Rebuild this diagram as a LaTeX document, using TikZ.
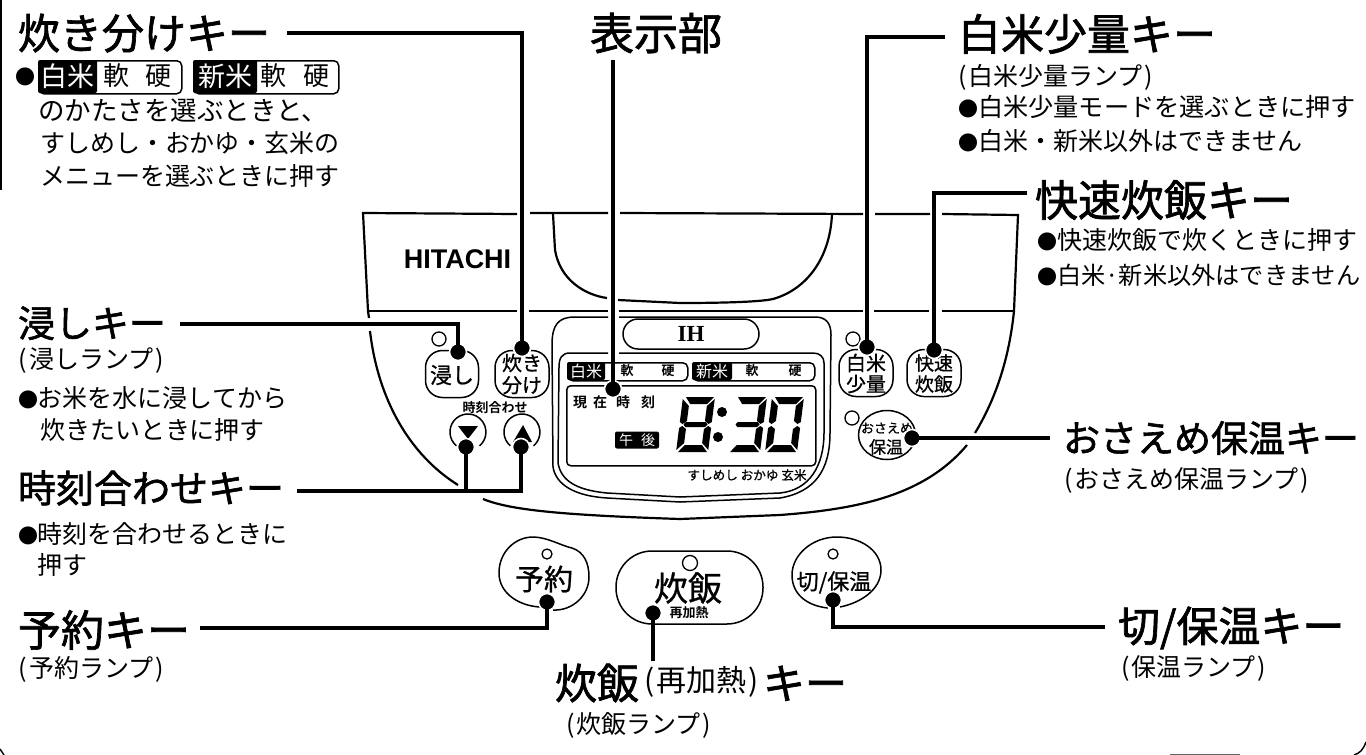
\documentclass[tikz,border=0pt]{standalone}
\usepackage{fontspec}
\usetikzlibrary{shapes.geometric}
\setmainfont{Noto Sans CJK JP}
\newfontfamily\heavyjp[FakeBold=1.6]{Noto Sans CJK JP}
\newfontfamily\midjp[FakeBold=0.8]{Noto Sans CJK JP}
\newfontfamily\boldjp{Noto Sans CJK JP Bold}
\newfontfamily\hitfont{Liberation Sans Bold}
\newfontfamily\ihfont{Liberation Serif Bold}
\newcommand\strutem{\rule[-.12em]{0pt}{1em}}
\newcommand\bl{\makebox[20pt][l]{\fontsize{20pt}{20pt}\selectfont ●}}
\newcommand\LP{\kern1pt(\kern2pt}
\newcommand\RP{\kern2pt)\kern1pt}
% name, x, y, size, text
\newcommand\labw[5]{\node[txt,anchor=west] (#1) at (#2,#3) {\fontsize{#4pt}{#4pt}\selectfont\strutem #5};}
\newcommand\labh[5]{\node[txt,anchor=west] (#1) at (#2,#3) {\heavyjp\fontsize{#4pt}{#4pt}\selectfont\strutem #5};}
\newcommand\labc[5]{\node[txt] (#1) at (#2,#3) {\fontsize{#4pt}{#4pt}\selectfont\strutem #5};}
\newcommand\labm[5]{\node[txt] (#1) at (#2,#3) {\midjp\fontsize{#4pt}{#4pt}\selectfont\strutem #5};}
\newcommand\labb[5]{\node[txt] (#1) at (#2,#3) {\boldjp\fontsize{#4pt}{#4pt}\selectfont\strutem #5};}
\newcommand\labi[5]{\node[txt,text=white] (#1) at (#2,#3) {\fontsize{#4pt}{#4pt}\selectfont\strutem #5};}
% segments of a 32x55 digit
\newcommand\segA{\fill (3,0)--(31,0)--(25,7)--(8,7)--cycle;}
\newcommand\segB{\fill (32,2)--(32,25)--(29,27)--(25,24)--(25,9)--cycle;}
\newcommand\segC{\fill (29,29)--(32,31)--(32,53)--(25,46)--(25,32)--cycle;}
\newcommand\segD{\fill (8,48)--(25,48)--(31,55)--(2,55)--cycle;}
\newcommand\segE{\fill (3,29)--(7,32)--(7,46)--(0,53)--(0,31)--cycle;}
\newcommand\segF{\fill (0,2)--(7,9)--(7,24)--(3,27)--(0,25)--cycle;}
\newcommand\segG{\fill (6,25)--(26,25)--(28,27.5)--(26,30)--(6,30)--(4,27.5)--cycle;}
\tikzset{
  txt/.style={inner sep=0pt,outer sep=0pt},
  body/.style={line width=2.2pt,draw=black},
  fine/.style={line width=1.5pt,draw=black},
  conn/.style={line width=3.4pt,draw=black},
  dotn/.style={circle,fill=black,draw=white,line width=1.6pt,minimum size=17pt,inner sep=0pt},
  lamp/.style={circle,draw=black,line width=1.3pt,fill=white,inner sep=0pt},
  btn/.style={draw=black,line width=1.5pt,fill=white,rectangle,inner sep=0pt,align=center},
  blk/.style={fill=black,rectangle,inner sep=0pt},
  outl/.style={draw=black,line width=1.5pt,rectangle,inner sep=0pt,anchor=north west},
}
\begin{document}
\begin{tikzpicture}[x=1pt,y=-1pt]
\fill[white] (0,0) rectangle (1366,755);
\useasboundingbox (0,0) rectangle (1366,755);
% page edge traces
\draw[fine] (0.8,0) -- (0.8,190);
\draw[fine] (0,749) -- (4,755);
\draw[fine] (1366,742) .. controls (1363,750) and (1360,753) .. (1354,755);
\draw[line width=.8pt,draw=black!60] (1170,754.5) -- (1240,754.5);
% cooker body
\draw[body] (517,214) -- (363,213) -- (368,311) -- (369,318);
\draw[body] (368,311) -- (517,311);
\draw[body] (530,213) -- (608,213) (620,213) -- (863,214) (875,214) -- (930,214) (942,214) -- (1018,215) -- (1014,311);
\draw[body] (529,311) -- (608,311) (619,311) -- (863,311) (874,311) -- (929,311) (942,311) -- (1014,311);
\draw[body] (1014,311) .. controls (1009,360) and (995,400) .. (975,433);
\draw[body] (967,445) .. controls (925,495) and (860,509) .. (780,515) -- (680,519);
\draw[body] (483,499) .. controls (510,510) and (560,515) .. (680,519);
\draw[body] (370,331) .. controls (378,400) and (410,455) .. (458,485);
% pot opening
\draw[body] (553,214) -- (555,250) .. controls (560,280) and (585,295) .. (607,298);
\draw[body] (618,300) -- (680,303) .. controls (720,303) and (760,302) .. (773,299) .. controls (805,290) and (830,260) .. (832,214);
\node[txt] (hit) at (457.5,259) {\hitfont\fontsize{27pt}{27pt}\selectfont HITACHI};
% control panel
\draw[fine] (608,317) -- (575,317) .. controls (558,317) and (552,325) .. (552,345) -- (553,467) .. controls (556,485) and (575,496) .. (607,498) -- (680,502) -- (780,498) .. controls (815,492) and (830,470) .. (830,433) -- (831,335) .. controls (831,323) and (826,317) .. (815,317) -- (619,317);
\draw[fine] (608,353) -- (570,353) .. controls (562,353) and (559,358) .. (559,367) -- (558,463) .. controls (561,480) and (575,490) .. (607,493) -- (680,497) -- (780,493) .. controls (810,490) and (824,465) .. (824,433) -- (824,363) .. controls (824,357) and (820,353) .. (813,353) -- (619,353);
\node[btn,rounded corners=15pt,minimum width=136pt,minimum height=30pt] (ihpill) at (691,334) {\ihfont\fontsize{23pt}{23pt}\selectfont IH};
% band in panel
\node[outl,rounded corners=5pt,minimum width=120pt,minimum height=18pt] (pb1) at (567,362) {};
\node[outl,rounded corners=5pt,minimum width=122pt,minimum height=18pt] (pb2) at (692,362) {};
\node[blk,rounded corners=2pt,minimum width=38pt,minimum height=18pt] (pb1k) at (586,371) {};
\node[blk,rounded corners=2pt,minimum width=40pt,minimum height=18pt] (pb2k) at (712,371) {};
\labi{p1}{586}{371}{16}{白米}
\labi{p2}{712}{371}{16}{新米}
\labb{p3}{627}{371}{13}{軟}
\labb{p4}{668}{371}{13}{硬}
\labb{p5}{752}{371}{13}{軟}
\labb{p6}{795}{371}{13}{硬}
\node[outl,rounded corners=4pt,minimum width=249pt,minimum height=80pt] (win) at (566,385) {};
\labb{g1}{580}{402}{14}{現}
\labb{g2}{600}{402}{14}{在}
\labb{g3}{623}{402}{14}{時}
\labb{g4}{648}{402}{14}{刻}
\node[blk,rounded corners=2pt,minimum width=44pt,minimum height=17pt] (amk) at (637,440) {};
\labi{a1}{626}{440}{14}{午}
\labi{a2}{648}{440}{14}{後}
\labm{menu}{747}{475}{12.6}{すしめし おかゆ 玄米}
% seven-segment clock
\begin{scope}[shift={(683,397)},xslant=.127]\segA\segB\segC\segD\segE\segF\segG\end{scope}
\begin{scope}[shift={(735,397)},xslant=.127]\segA\segB\segC\segD\segG\end{scope}
\begin{scope}[shift={(772,397)},xslant=.127]\segA\segB\segC\segD\segE\segF\end{scope}
\fill (722,412) circle (5pt);
\fill (718,437) circle (5pt);
% keys
\node[lamp,minimum size=14pt] (l1) at (439,339) {};
\node[btn,rounded corners=17pt,minimum width=53pt,minimum height=47pt] (bshi) at (452,374) {};
\labm{bshit}{452}{375}{22}{浸し}
\node[btn,rounded corners=17pt,minimum width=54pt,minimum height=47pt] (btak) at (522,374) {};
\labm{btak1}{522}{363}{20}{炊き}
\labm{btak2}{522}{385}{20}{分け}
\labb{jikoku}{495}{408}{13}{時刻合わせ}
\draw[fine] (456.4,445.8) arc[start angle=230,end angle=-50,radius=18pt];
\draw[fine] (510.4,445.8) arc[start angle=230,end angle=-50,radius=18pt];
\fill (458,426) -- (478,426) -- (468,439) -- cycle;
\fill (513,442) -- (532,442) -- (523,425) -- cycle;
\node[lamp,minimum size=14pt] (l2) at (853,339) {};
\node[btn,rounded corners=17pt,minimum width=54pt,minimum height=47pt] (bhak) at (866,373) {};
\labm{bhak1}{866}{363}{20}{白米}
\labm{bhak2}{866}{384}{20}{少量}
\node[btn,rounded corners=17pt,minimum width=54pt,minimum height=47pt] (bkai) at (934,373) {};
\labm{bkai1}{934}{363}{19}{快速}
\labm{bkai2}{934}{384}{19}{炊飯}
\node[lamp,minimum size=14pt] (l3) at (852,418) {};
\node[btn,ellipse,minimum width=57pt,minimum height=49pt] (bosa) at (887,435) {};
\labm{bosa1}{887}{428}{13}{おさえめ}
\labm{bosa2}{886}{447}{17}{保温}
% large keys
\draw[fine,fill=white] (540,607) .. controls (520,606) and (499,594) .. (499,573) .. controls (499,552) and (515,537) .. (533,537) .. controls (547,537) and (562,546) .. (572,548) .. controls (584,552) and (589,563) .. (589,577) .. controls (589,595) and (573,611) .. (553,610);
\node[lamp,minimum size=10pt] (l4) at (547,554) {};
\labm{byoy}{544}{579}{29}{予約}
\node[btn,rounded corners=36pt,minimum width=147pt,minimum height=73pt] (bsui) at (689.5,587.5) {};
\labb{bsui2}{689}{613}{13}{再加熱}
\labm{bsui1}{688}{588}{34}{炊飯}
\node[lamp,minimum size=15pt] (l5) at (690,563) {};
\draw[fine,fill=white] (828,608) .. controls (808,606) and (792,595) .. (792,575) .. controls (792,555) and (812,537) .. (837,537) .. controls (860,537) and (881,550) .. (881,570) .. controls (881,590) and (860,603) .. (840,607);
\node[lamp,minimum size=10pt] (l6) at (833,554) {};
\labm{bkir}{834}{582}{22}{切/保温}
% titles and notes
\labh{t1}{18}{33}{42}{炊き分けキー}
\labw{t1b}{15}{77}{20}{●}
\node[outl,rounded corners=5pt,minimum width=143pt,minimum height=33pt] (o1) at (38,60) {};
\node[outl,rounded corners=5pt,minimum width=145pt,minimum height=33pt] (o2) at (193,60) {};
\node[blk,rounded corners=2pt,minimum width=59pt,minimum height=33pt] (k1) at (67.5,76.5) {};
\node[blk,rounded corners=2pt,minimum width=64pt,minimum height=33pt] (k2) at (225,76.5) {};
\labi{k1t}{67.5}{76}{27}{白米}
\labi{k2t}{225}{76}{27}{新米}
\labc{k3}{116}{76}{26}{軟}
\labc{k4}{158}{76}{26}{硬}
\labc{k5}{273}{76}{26}{軟}
\labc{k6}{316}{76}{26}{硬}
\labw{t1c}{38}{110}{26.5}{のかたさを選ぶときと、}
\labw{t1d}{40}{143}{25}{すしめし・おかゆ・玄米の}
\labw{t1e}{40}{176}{25}{メニューを選ぶときに押す}
\labh{t2}{590}{33}{44}{表示部}
\labh{t3}{958}{34}{43}{白米少量キー}
\labw{t3a}{957}{77}{25}{\LP 白米少量ランプ\RP}
\labw{t3b}{958}{107}{25.2}{\bl 白米少量モードを選ぶときに押す}
\labw{t3c}{958}{141}{25}{\bl 白米・新米以外はできません}
\labh{t4}{1035}{200}{43}{快速炊飯キー}
\labw{t4b}{1037}{240}{25}{\bl 快速炊飯で炊くときに押す}
\labw{t4c}{1037}{275}{24.2}{\bl 白米·新米以外はできません}
\labh{t5}{18}{323}{37}{浸しキー}
\labw{t5a}{18}{360}{25}{\LP 浸しランプ\RP}
\labw{t5b}{18}{398}{25}{\bl お米を水に浸してから}
\labw{t5c}{40}{430}{25}{炊きたいときに押す}
\labh{t6}{18}{488}{38}{時刻合わせキー}
\labw{t6a}{18}{534}{25}{\bl 時刻を合わせるときに}
\labw{t6b}{37}{565}{25}{押す}
\labh{t7}{18}{630}{43}{予約キー}
\labw{t7a}{18}{669}{25}{\LP 予約ランプ\RP}
\labh{t8}{555}{683}{42}{炊飯}
\labw{t8a}{643}{681}{30}{\LP 再加熱\RP}
\labh{t8b}{763}{683}{42}{キー}
\labw{t8c}{565}{725}{25}{\LP 炊飯ランプ\RP}
\labh{t9}{1118}{627}{42}{切/保温キー}
\labw{t9a}{1120}{668}{25}{\LP 保温ランプ\RP}
\labh{t10}{1063}{438}{37}{おさえめ保温キー}
\labw{t10a}{1063}{480}{25}{\LP おさえめ保温ランプ\RP}
% leader dots
\node[dotn] (d1) at (522,348) {};
\node[dotn] (d2) at (613,389) {};
\node[dotn] (d3) at (867,347) {};
\node[dotn] (d4) at (934,350) {};
\node[dotn] (d5) at (458,352) {};
\node[dotn] (d6) at (466,447) {};
\node[dotn] (d7) at (521,447) {};
\node[dotn] (d8) at (912,438) {};
\node[dotn] (d9) at (547,602) {};
\node[dotn] (d10) at (653,613) {};
\node[dotn] (d11) at (833,600) {};
% leader ends
\coordinate (e1) at (287,33);
\coordinate (e2) at (613,60);
\coordinate (e3) at (945,37);
\coordinate (e4) at (1027,193);
\coordinate (e5) at (180,324);
\coordinate (e6) at (297,491);
\coordinate (e8) at (1050,438);
\coordinate (e9) at (200,628);
\coordinate (e10) at (641,661);
\coordinate (e11) at (1105,627);
\coordinate (j6) at (466,491);
\draw[conn] (e1) -| (d1.center);
\draw[conn] (e2) -- (d2.center);
\draw[conn] (e3) -| (d3.center);
\draw[conn] (e4) -| (d4.center);
\draw[conn] (e5) -| (d5.center);
\draw[conn] (e6) -| (d7.center);
\draw[conn] (j6) -- (d6.center);
\draw[conn] (e8) -- (d8.center);
\draw[conn] (e9) -| (d9.center);
\draw[conn] (e10 -| d10) -- (d10.center);
\draw[conn] (e11) -| (d11.center);
\end{tikzpicture}
\end{document}
